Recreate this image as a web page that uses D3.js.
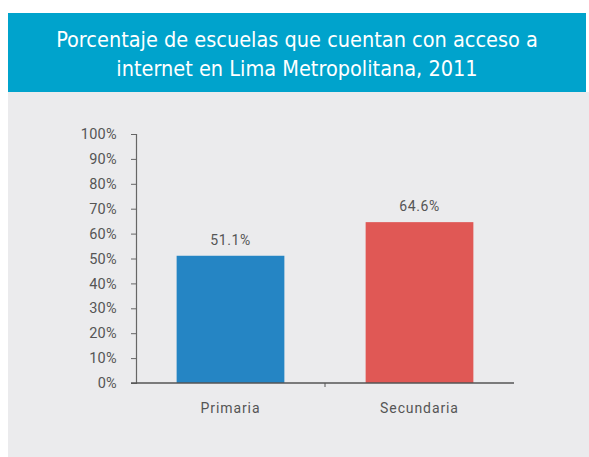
<!DOCTYPE html>
<html>
<head>
<meta charset="utf-8">
<script src="https://cdn.jsdelivr.net/npm/d3@7/dist/d3.min.js"></script>
<style>
  html, body { margin: 0; padding: 0; background: #fff; }
  svg { display: block; }
</style>
</head>
<body>
<div id="chart"></div>
<script>
// Data
const categories = ['Primaria', 'Secundaria'];
const values = [51.1, 64.6];
const barColors = ['#2585C4', '#E05855'];
const yTicks = [0, 10, 20, 30, 40, 50, 60, 70, 80, 90, 100];
const titleLines = ['Porcentaje de escuelas que cuentan con acceso a', 'internet en Lima Metropolitana, 2011'];

const width = 589;
const height = 457;
const textFont = 'Roboto, "DejaVu Sans", sans-serif';

const svg = d3.select('#chart')
  .append('svg')
  .attr('width', width)
  .attr('height', height);

// header band + grey panel
svg.append('rect')
  .attr('x', 8).attr('y', 13)
  .attr('width', 578).attr('height', 79)
  .attr('fill', '#00A3CC');

svg.append('rect')
  .attr('x', 8).attr('y', 92)
  .attr('width', 581).attr('height', height - 92)
  .attr('fill', '#EBEBED');

const title = svg.append('text')
  .attr('text-anchor', 'middle')
  .attr('fill', '#fff')
  .style('font-family', '"Liberation Sans Narrow", "DejaVu Sans Condensed", sans-serif')
  .style('font-size', '21.5px');

titleLines.forEach((t, i) => {
  title.append('tspan')
    .attr('x', 297)
    .attr('y', 47 + i * 29)
    .text(t);
});

// scales
const x = d3.scaleBand()
  .domain(categories)
  .range([136, 514])
  .paddingInner(0.43)
  .paddingOuter(0.215);

const y = d3.scaleLinear()
  .domain([0, 100])
  .range([383, 134]);

// bars
svg.selectAll('rect.bar')
  .data(values)
  .enter()
  .append('rect')
  .attr('class', 'bar')
  .attr('x', (d, i) => x(categories[i]))
  .attr('y', d => y(d))
  .attr('width', x.bandwidth())
  .attr('height', d => y(0) - y(d))
  .attr('fill', (d, i) => barColors[i]);

// value labels
svg.selectAll('text.val')
  .data(values)
  .enter()
  .append('text')
  .attr('class', 'val')
  .attr('x', (d, i) => x(categories[i]) + x.bandwidth() / 2)
  .attr('y', d => y(d) - 11)
  .attr('text-anchor', 'middle')
  .attr('fill', '#555')
  .style('font-family', textFont)
  .style('font-size', '14px')
  .style('letter-spacing', '0.6px')
  .text(d => d.toFixed(1) + '%');

// y axis
const yAxis = svg.append('g')
  .attr('transform', 'translate(136,0)')
  .call(d3.axisLeft(y)
    .tickValues(yTicks)
    .tickSize(5)
    .tickPadding(14)
    .tickFormat(d => d + '%'));

yAxis.select('.domain').attr('stroke', '#666').attr('stroke-width', 1.2);
yAxis.selectAll('.tick line').attr('stroke', '#666');
yAxis.selectAll('.tick text')
  .attr('fill', '#555')
  .style('font-family', textFont)
  .style('font-size', '14.5px')
  .style('letter-spacing', '0.3px');

// x axis baseline with a divider tick between categories
const xAxisG = svg.append('g');
xAxisG.append('line')
  .attr('x1', 131).attr('x2', 514)
  .attr('y1', y(0)).attr('y2', y(0))
  .attr('stroke', '#555')
  .attr('stroke-width', 1.5);

const mid = (x(categories[0]) + x.bandwidth() + x(categories[1])) / 2;
xAxisG.append('line')
  .attr('x1', mid).attr('x2', mid)
  .attr('y1', y(0)).attr('y2', y(0) + 4)
  .attr('stroke', '#555');

xAxisG.selectAll('text.cat')
  .data(categories)
  .enter()
  .append('text')
  .attr('class', 'cat')
  .attr('x', d => x(d) + x.bandwidth() / 2)
  .attr('y', 413)
  .attr('text-anchor', 'middle')
  .attr('fill', '#555')
  .style('font-family', textFont)
  .style('font-size', '14px')
  .style('letter-spacing', '0.9px')
  .text(d => d);
</script>
</body>
</html>
